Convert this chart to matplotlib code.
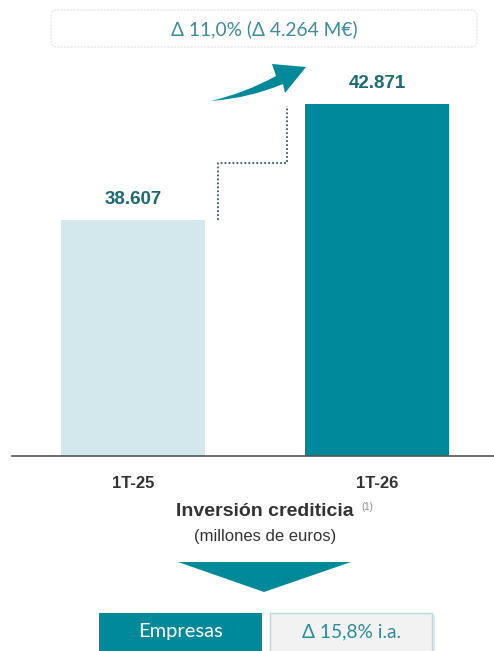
import matplotlib
matplotlib.use("Agg")
import matplotlib.pyplot as plt
from matplotlib.patches import FancyBboxPatch, Rectangle, Polygon, PathPatch
from matplotlib.path import Path

# data
periods = ["1T-25", "1T-26"]
values = [38607, 42871]
value_labels = ["38.607", "42.871"]
bar_colors = ["#d3e8ec", "#008a99"]
delta_text = "\u0394 11,0% (\u0394 4.264 M\u20ac)"
title = "Inversi\u00f3n crediticia"
subtitle = "(millones de euros)"
segment = "Empresas"
segment_delta = "\u0394 15,8% i.a."

narrow = ["Liberation Sans Narrow", "Liberation Sans", "DejaVu Sans"]
soft = ["Lato", "Open Sans", "DejaVu Sans"]

W, H = 494, 651
fig = plt.figure(figsize=(W / 100, H / 100), dpi=100)

# bar axes: spans x 0..494 px, y from baseline (456 px) to top of figure
ax = fig.add_axes([0, (H - 456) / H, 1, 456 / H])
ax.bar(range(len(values)), values, width=0.59, color=bar_colors, zorder=2)
ax.set_xlim(-0.545, 1.48)
ax.set_ylim(29932, 46694)
ax.axis("off")
ax.axhline(29932, xmin=12 / W, xmax=1, color="#555555", lw=1.2, zorder=3, clip_on=False)
for i, v in enumerate(values):
    ax.annotate(value_labels[i], (i, v), xytext=(0, 8.5), textcoords="offset points",
                ha="center", va="bottom", fontsize=13.5, fontweight="bold",
                color="#1b6b74", family=narrow)

# overlay in pixel coordinates for the decorations
ov = fig.add_axes([0, 0, 1, 1])
ov.set_xlim(0, W)
ov.set_ylim(H, 0)
ov.axis("off")
ov.patch.set_alpha(0)

top_box = FancyBboxPatch((51, 10), 426, 37, boxstyle="round,pad=0,rounding_size=6",
                         fc="white", ec="#e3e3e3", lw=0.8, ls=(0, (2, 1)))
ov.add_patch(top_box)
ov.text(264, 29, delta_text, ha="center", va="center", fontsize=13.8,
        color="#3e8c9c", family=soft)

# curved arrow
verts = [(211, 101), (245, 93), (276, 76), (272, 64), (306, 67), (285, 93),
         (283, 84), (250, 98), (211, 101), (211, 101)]
codes = [Path.MOVETO, Path.CURVE3, Path.CURVE3, Path.LINETO, Path.LINETO,
         Path.LINETO, Path.LINETO, Path.CURVE3, Path.CURVE3, Path.CLOSEPOLY]
ov.add_patch(PathPatch(Path(verts, codes), fc="#008a99", ec="none"))

# dotted step line
ov.plot([218, 218, 287, 287], [220, 163, 163, 106], color="#2e5f6a",
        lw=1.3, ls=(0, (1, 1.2)))

# category labels
for i, p in enumerate(periods):
    ov.text([133, 377][i], 483, p, ha="center", va="center", fontsize=12,
            fontweight="bold", color="#333333", family=narrow)

ov.text(265, 511, title, ha="center", va="center", fontsize=14,
        fontweight="bold", color="#333333", family=narrow)
ov.text(367, 507, "(1)", ha="center", va="center", fontsize=7,
        color="#8a8a8a", family=narrow)
ov.text(265, 537, subtitle, ha="center", va="center", fontsize=12,
        color="#333333", family=narrow)

ov.add_patch(Polygon([(178, 562), (351, 562), (264, 592)], closed=True,
                     fc="#008a99", ec="none"))

ov.add_patch(Rectangle((99, 613), 163, 45, fc="#008a99", ec="none"))
ov.text(180, 632, segment, ha="center", va="center", fontsize=14.5,
        color="white", family=soft)
ov.add_patch(Rectangle((272, 615), 163, 45, fc="#dcdcdc", ec="none", alpha=0.6))
ov.add_patch(Rectangle((270, 613), 162, 45, fc="#f2f2f2", ec="#b8d8dd", lw=1))
ov.text(351, 632, segment_delta, ha="center", va="center", fontsize=13.8,
        color="#2a8c9b", family=soft)

fig.savefig("out.png", dpi=100)
